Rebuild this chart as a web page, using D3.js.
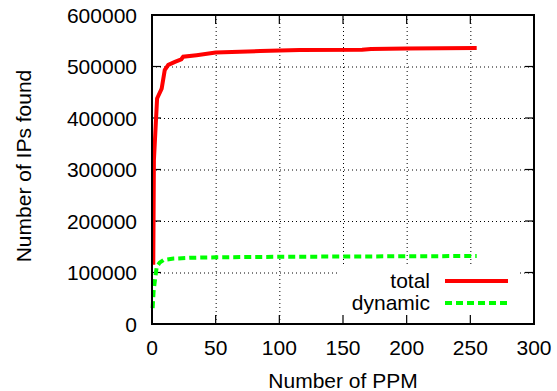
<!DOCTYPE html>
<html>
<head>
<meta charset="utf-8">
<script src="https://cdn.jsdelivr.net/npm/d3@7"></script>
<style>
  body { margin: 0; background: #fff; }
  text { font-family: "Liberation Sans", Arial, sans-serif; fill: #000; }
</style>
</head>
<body>
<script>
const xTicks = [0, 50, 100, 150, 200, 250, 300]
const yTicks = [0, 100000, 200000, 300000, 400000, 500000, 600000]

const totalPPM = [1, 1.5, 4, 7.6, 10, 12.8, 18, 23, 24.5, 35, 50, 85, 116, 165, 172, 200, 255]
const totalIPs = [115000, 318000, 438000, 457000, 493000, 503000, 509000, 514000, 519000, 522000, 527000, 530000, 532000, 532500, 534000, 535000, 536000]

const dynamicPPM = [0.5, 1.2, 2.3, 3.7, 6, 9, 17, 30, 50, 100, 150, 200, 255]
const dynamicIPs = [31000, 62000, 85000, 111000, 119000, 124000, 127000, 128500, 129500, 130500, 131000, 131500, 132000]

const drawChart = () => {
    const w = 557
    const h = 391
    const left = 152
    const right = 534
    const top = 15
    const bottom = 324
    const fs = 21

    const svg = d3.select('body').append('svg')
        .attr('width', w)
        .attr('height', h)

    const x = d3.scaleLinear().domain([0, 300]).range([left, right])
    const y = d3.scaleLinear().domain([0, 600000]).range([bottom, top])

    // grid
    const grid = svg.append('g')
        .attr('stroke', '#000')
        .attr('stroke-width', 1)
        .attr('stroke-dasharray', '1,3')
    grid.selectAll('.gx')
        .data(xTicks.slice(1, -1))
        .enter().append('line')
        .attr('x1', d => x(d) + 0.5).attr('x2', d => x(d) + 0.5)
        .attr('y1', top).attr('y2', bottom)
    grid.selectAll('.gy')
        .data(yTicks.slice(1, -1))
        .enter().append('line')
        .attr('y1', d => y(d) + 0.5).attr('y2', d => y(d) + 0.5)
        .attr('x1', left).attr('x2', right)

    // legend background
    svg.append('rect')
        .attr('x', 337).attr('y', 265)
        .attr('width', 183).attr('height', 56)
        .attr('fill', '#fff')

    // ticks on all sides (inward)
    const tl = 9
    const ticks = svg.append('g').attr('stroke', '#000').attr('stroke-width', 1.2)
    ticks.selectAll('.tb').data(xTicks).enter().append('line')
        .attr('x1', d => x(d)).attr('x2', d => x(d))
        .attr('y1', bottom).attr('y2', bottom - tl)
    ticks.selectAll('.tt').data(xTicks).enter().append('line')
        .attr('x1', d => x(d)).attr('x2', d => x(d))
        .attr('y1', top).attr('y2', top + tl)
    ticks.selectAll('.tlft').data(yTicks).enter().append('line')
        .attr('y1', d => y(d)).attr('y2', d => y(d))
        .attr('x1', left).attr('x2', left + tl)
    ticks.selectAll('.tr').data(yTicks).enter().append('line')
        .attr('y1', d => y(d)).attr('y2', d => y(d))
        .attr('x1', right).attr('x2', right - tl)

    // curves
    const line = d3.line().x(d => x(d[0])).y(d => y(d[1]))

    svg.append('path')
        .datum(dynamicPPM.map((p, i) => [p, dynamicIPs[i]]))
        .attr('d', line)
        .attr('fill', 'none')
        .attr('stroke', '#00ff00')
        .attr('stroke-width', 4)
        .attr('stroke-dasharray', '7,4')

    svg.append('path')
        .datum(totalPPM.map((p, i) => [p, totalIPs[i]]))
        .attr('d', line)
        .attr('fill', 'none')
        .attr('stroke', '#ff0000')
        .attr('stroke-width', 4)

    // frame
    svg.append('rect')
        .attr('x', left).attr('y', top)
        .attr('width', right - left).attr('height', bottom - top)
        .attr('fill', 'none')
        .attr('stroke', '#000')
        .attr('stroke-width', 2)

    // tick labels
    svg.selectAll('.xl').data(xTicks).enter().append('text')
        .attr('x', d => x(d))
        .attr('y', 355)
        .attr('text-anchor', 'middle')
        .attr('font-size', fs)
        .text(d => d)
    svg.selectAll('.yl').data(yTicks).enter().append('text')
        .attr('x', 137)
        .attr('y', d => y(d) + 7.5)
        .attr('text-anchor', 'end')
        .attr('font-size', fs)
        .text(d => d)

    // axis titles
    svg.append('text')
        .attr('x', 343).attr('y', 388)
        .attr('text-anchor', 'middle')
        .attr('font-size', fs)
        .text('Number of PPM')
    svg.append('text')
        .attr('transform', 'translate(31,166) rotate(-90)')
        .attr('text-anchor', 'middle')
        .attr('font-size', fs)
        .text('Number of IPs found')

    // legend
    const legendItems = [
        { name: 'total', color: '#ff0000', dash: null },
        { name: 'dynamic', color: '#00ff00', dash: '7,4' }
    ]
    const lg = svg.append('g')
    legendItems.forEach((item, i) => {
        const ly = 281 + i * 22
        lg.append('text')
            .attr('x', 430).attr('y', ly + 7)
            .attr('text-anchor', 'end')
            .attr('font-size', fs)
            .text(item.name)
        lg.append('line')
            .attr('x1', 445).attr('x2', 508)
            .attr('y1', ly).attr('y2', ly)
            .attr('stroke', item.color)
            .attr('stroke-width', 4)
            .attr('stroke-dasharray', item.dash)
    })
}

drawChart()
</script>
</body>
</html>
